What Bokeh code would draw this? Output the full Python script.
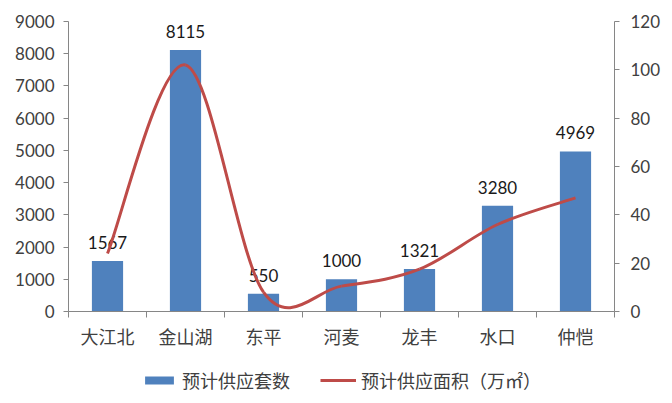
from bokeh.plotting import figure
from bokeh.layouts import column
from bokeh.models import (Range1d, LinearAxis, FixedTicker, Legend, LegendItem,
                          ColumnDataSource)
from bokeh.embed import file_html
from bokeh.resources import INLINE
from bokeh.core.properties import value

categories = ["大江北", "金山湖", "东平", "河麦", "龙丰", "水口", "仲恺"]
units = [1567, 8115, 550, 1000, 1321, 3280, 4969]
area = [24, 102, 8, 10.5, 17.5, 36, 47]
left_ticks = [0, 1000, 2000, 3000, 4000, 5000, 6000, 7000, 8000, 9000]
right_ticks = [0, 20, 40, 60, 80, 100, 120]
bar_name = "预计供应套数"
line_name = "预计供应面积（万㎡）"

BLUE = "#4F81BD"
RED = "#BE4B48"
AXIS = "#868686"
TXT = "#404040"
NUMFONT = "Lato"
CJK = "Noto Sans CJK SC"

xs = list(range(1, len(categories) + 1))

p = figure(frame_width=546, frame_height=290, output_backend="svg",
           toolbar_location=None, x_range=Range1d(0.5, len(categories) + 0.5),
           y_range=Range1d(0, 9000))
p.min_border_left = 68
p.min_border_right = 56
p.min_border_top = 21
p.min_border_bottom = 50
p.outline_line_color = None
p.xgrid.visible = False
p.ygrid.visible = False
p.background_fill_color = "white"
p.border_fill_color = "white"

p.extra_y_ranges = {"right": Range1d(0, 120)}

# bars
src = ColumnDataSource(dict(x=xs, top=units, lab=[str(u) for u in units]))
p.vbar(x="x", top="top", width=0.4, source=src, fill_color=BLUE, line_color=None)
p.text(x="x", y="top", text="lab", source=src, text_align="center",
       text_baseline="bottom", y_offset=-12, text_font=value(NUMFONT),
       text_font_size="17px", text_color="#1a1a1a")

# smooth line (Bezier segments, Catmull-Rom style control points)
n = len(area)
x0, y0, x1, y1, cx0, cy0, cx1, cy1 = [], [], [], [], [], [], [], []
for i in range(n - 1):
    xp = xs[i - 1] if i > 0 else xs[i]
    yp = area[i - 1] if i > 0 else area[i]
    xn2 = xs[i + 2] if i + 2 < n else xs[i + 1]
    yn2 = area[i + 2] if i + 2 < n else area[i + 1]
    x0.append(xs[i]); y0.append(area[i])
    x1.append(xs[i + 1]); y1.append(area[i + 1])
    cx0.append(xs[i] + (xs[i + 1] - xp) / 6.0)
    cy0.append(area[i] + (area[i + 1] - yp) / 6.0)
    cx1.append(xs[i + 1] - (xn2 - xs[i]) / 6.0)
    cy1.append(area[i + 1] - (yn2 - area[i]) / 6.0)
p.bezier(x0=x0, y0=y0, x1=x1, y1=y1, cx0=cx0, cy0=cy0, cx1=cx1, cy1=cy1,
         line_color=RED, line_width=3, y_range_name="right")

# axes
p.xaxis.ticker = FixedTicker(ticks=xs, minor_ticks=[x + 0.5 for x in range(0, len(categories) + 1)])
p.xaxis.major_label_overrides = {x: c for x, c in zip(xs, categories)}
p.xaxis.major_tick_line_color = None
p.xaxis.minor_tick_line_color = AXIS
p.xaxis.minor_tick_out = 6
p.xaxis.minor_tick_in = 0
p.xaxis.axis_line_color = AXIS
p.xaxis.major_label_text_font = CJK
p.xaxis.major_label_text_font_size = "18px"
p.xaxis.major_label_text_color = TXT
p.xaxis.major_label_standoff = 5

p.yaxis.ticker = FixedTicker(ticks=left_ticks)
p.yaxis.minor_tick_line_color = None
p.yaxis.major_tick_line_color = AXIS
p.yaxis.major_tick_out = 5
p.yaxis.major_tick_in = 0
p.yaxis.axis_line_color = AXIS
p.yaxis.major_label_text_font = NUMFONT
p.yaxis.major_label_text_font_size = "17px"
p.yaxis.major_label_text_color = TXT
p.yaxis.major_label_standoff = 9

ra = LinearAxis(y_range_name="right", ticker=FixedTicker(ticks=right_ticks))
ra.minor_tick_line_color = None
ra.major_tick_line_color = AXIS
ra.major_tick_out = 5
ra.major_tick_in = 0
ra.axis_line_color = AXIS
ra.major_label_text_font = NUMFONT
ra.major_label_text_font_size = "17px"
ra.major_label_text_color = TXT
ra.major_label_standoff = 11
p.add_layout(ra, "right")

# legend strip (swatch renderers sit outside the visible range)
pl = figure(width=670, height=38, output_backend="svg", toolbar_location=None,
            x_range=Range1d(0, 1), y_range=Range1d(0, 1), min_border=0)
pl.axis.visible = False
pl.grid.visible = False
pl.outline_line_color = None
pl.border_fill_color = "white"
lb = pl.vbar(x=[-5], top=[-5], width=0.1, fill_color=BLUE, line_color=None)
ll = pl.line(x=[-6, -5], y=[-5, -5], line_color=RED, line_width=3)
legend = Legend(items=[LegendItem(label=bar_name, renderers=[lb]),
                       LegendItem(label=line_name, renderers=[ll])],
                orientation="horizontal", location="center",
                label_text_font=CJK, label_text_font_size="18px",
                label_text_color=TXT, glyph_width=36, glyph_height=10,
                spacing=30, label_standoff=5, border_line_color=None,
                background_fill_alpha=0, padding=0, margin=0)
pl.add_layout(legend, "center")

open("out.html", "w").write(file_html(column(p, pl, spacing=0), INLINE))
